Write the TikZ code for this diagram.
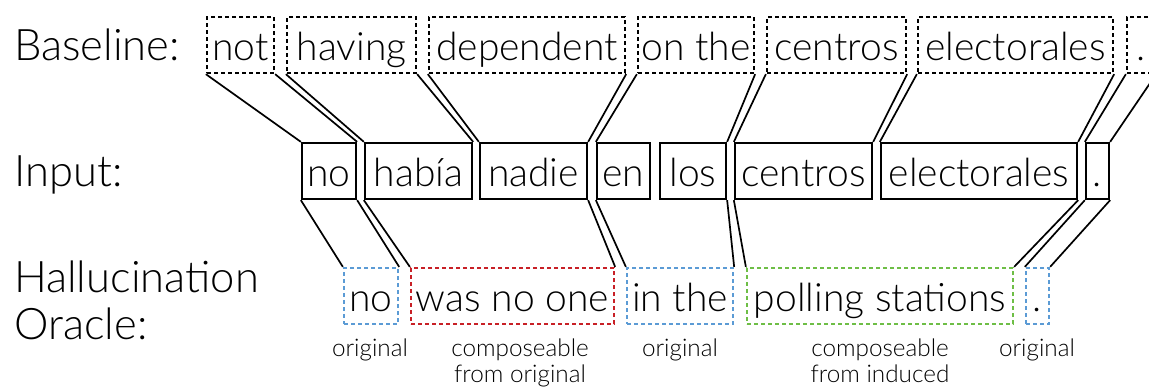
\documentclass[tikz,border=0pt]{standalone}
\usepackage{fontspec}
\setmainfont{Lato}[UprightFont=* Light]
\definecolor{oblue}{RGB}{91,155,213}
\definecolor{ored}{RGB}{200,32,38}
\definecolor{ogreen}{RGB}{110,190,70}
\tikzset{
  wbox/.style={inner xsep=0pt, inner ysep=7pt, text height=36pt, text depth=6pt,
    font=\fontsize{39}{42}\selectfont, line width=2.3pt},
  basebox/.style={wbox, draw, dash pattern=on 4pt off 3pt},
  inbox/.style={wbox, draw},
  orbox/.style={wbox, draw=#1, dash pattern=on 4pt off 3pt},
  link/.style={line width=1.7pt},
  rowlabel/.style={anchor=base west, inner sep=0pt, font=\fontsize{43.5}{48}\selectfont},
  note/.style={anchor=base, inner sep=0pt, font=\fontsize{24.3}{27}\selectfont},
}
\begin{document}
\begin{tikzpicture}[x=1pt,y=-1pt]
\useasboundingbox (0,0) rectangle (1149,389);
% row labels
\node[rowlabel] (lbase) at (14,60) {Baseline:};
\node[rowlabel] (linput) at (14,186) {Input:};
\node[rowlabel] (lhall) at (14,292) {Hallucination};
\node[rowlabel] (lorac) at (14,339) {Oracle:};
% baseline row
\node[basebox, minimum width=67pt]  (bnot)     at (240.5,45) {not};
\node[basebox, minimum width=129pt] (bhaving)  at (351.5,45) {having};
\node[basebox, minimum width=196pt] (bdep)     at (527,45)   {dependent};
\node[basebox, minimum width=116pt] (bonthe)   at (696,45)   {on the};
\node[basebox, minimum width=139pt] (bcentros) at (836.5,45) {centros};
\node[basebox, minimum width=195pt] (belect)   at (1015.5,45) {electorales};
\node[basebox, minimum width=28pt]  (bdot)     at (1141,45)  {.};
% input row
\node[inbox, minimum width=54pt]  (ino)      at (329,171)   {no};
\node[inbox, minimum width=107pt] (ihabia)   at (418.5,171) {había};
\node[inbox, minimum width=107pt] (inadie)   at (533.5,171) {nadie};
\node[inbox, minimum width=53pt]  (ien)      at (623.5,171) {en};
\node[inbox, minimum width=66pt]  (ilos)     at (693,171)   {los};
\node[inbox, minimum width=137pt] (icentros) at (803.5,171) {centros};
\node[inbox, minimum width=196pt] (ielect)   at (979,171)   {electorales};
\node[inbox, minimum width=23pt]  (idot)     at (1097.5,171) {.};
% oracle row
\node[orbox=oblue,  minimum width=54pt]  (ono)   at (371,296)   {no};
\node[orbox=ored,   minimum width=203pt] (owas)  at (512.5,296) {was no one};
\node[orbox=oblue,  minimum width=106pt] (oin)   at (680,296)   {in the};
\node[orbox=ogreen, minimum width=266pt] (opoll) at (880,296)   {polling stations};
\node[orbox=oblue,  minimum width=23pt]  (odot)  at (1037.5,296) {.};
% notes
\node[note] (n1)  at (370,356) {original};
\node[note] (n2a) at (520,356) {composeable};
\node[note] (n2b) at (520,382) {from original};
\node[note] (n3)  at (680,356) {original};
\node[note] (n4a) at (880,356) {composeable};
\node[note] (n4b) at (880,382) {from induced};
\node[note] (n5)  at (1037,356) {original};
% baseline -> input
\draw[link] (bnot.south west) -- (ino.north west);
\draw[link] (bnot.south east) -- (ino.north east);
\draw[link] (bhaving.south west) -- (ihabia.north west);
\draw[link] (bhaving.south east) -- (ihabia.north east);
\draw[link] (bdep.south west) -- (inadie.north west);
\draw[link] (bdep.south east) -- (inadie.north east);
\draw[link] (bonthe.south west) -- (ien.north west);
\draw[link] (bonthe.south east) -- (ilos.north east);
\draw[link] (bcentros.south west) -- (icentros.north west);
\draw[link] (bcentros.south east) -- (icentros.north east);
\draw[link] (belect.south west) -- (ielect.north west);
\draw[link] (belect.south east) -- (ielect.north east);
\draw[link] (bdot.south west) -- (idot.north west);
\draw[link] (bdot.south east) -- (idot.north east);
% input -> oracle
\draw[link] (ino.south west) -- (ono.north west);
\draw[link] (ino.south east) -- (ono.north east);
\draw[link] (ihabia.south west) -- (owas.north west);
\draw[link] (inadie.south east) -- (owas.north east);
\draw[link] (ien.south west) -- (oin.north west);
\draw[link] (ilos.south east) -- (oin.north east);
\draw[link] (icentros.south west) -- (opoll.north west);
\draw[link] (ielect.south east) -- (opoll.north east);
\draw[link] (idot.south west) -- (odot.north west);
\draw[link] (idot.south east) -- (odot.north east);
\end{tikzpicture}
\end{document}
